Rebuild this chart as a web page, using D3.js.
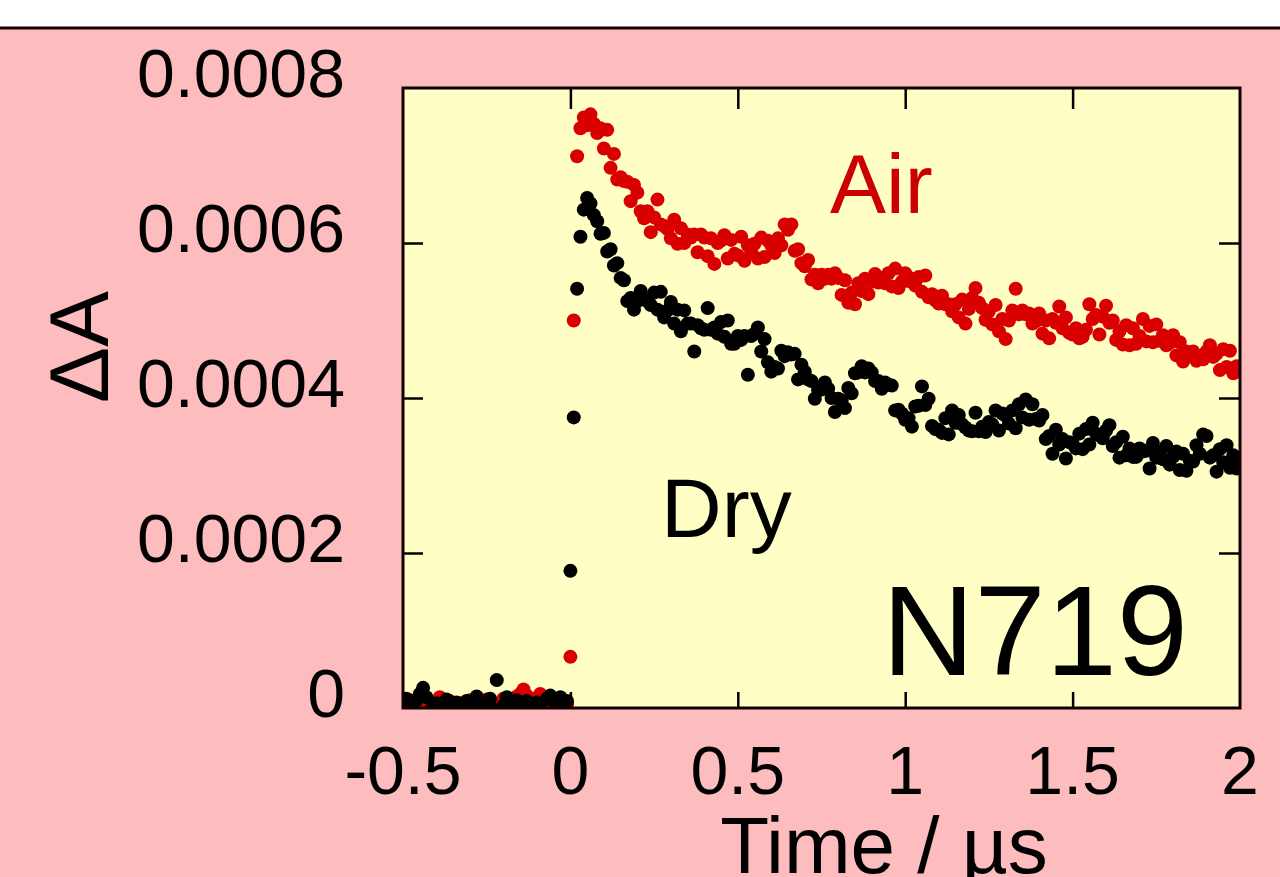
<!DOCTYPE html>
<html>
<head>
<meta charset="utf-8">
<script src="https://cdn.jsdelivr.net/npm/d3@7"></script>
<style>
  html, body { margin: 0; padding: 0; background: #fff; }
  svg { display: block; }
  text { font-family: "Liberation Sans", Arial, sans-serif; }
</style>
</head>
<body>
<svg id="chart" width="1280" height="877"></svg>
<script>
// Transient absorption of N719 films, ΔA vs time after the laser pulse.
// Samples every 0.01 µs from -0.5 µs to 2.0 µs; values are in units of 1e-6 ΔA.
const T_START = -0.5;
const T_STEP = 0.01;
const UNIT = 1e-6;

const dryValues = [
  // -0.50 .. -0.01 µs (pre-trigger baseline)
  8, 12, 4, -6, 10, 18, 26, 14, -4, 2,
  6, -8, 3, 11, -5, 0, 7, -10, 4, 9,
  -3, 6, 15, 2, -7, 5, 12, -2, 36, -9,
  3, 14, 6, -5, 10, 1, -6, 9, 4, -3,
  7, 2, -8, 12, 16, 10, 6, 14, 3, 9,
  // 0.00 .. 2.00 µs
  177, 375, 541, 608, 643, 658, 651, 636, 628, 612,
  613, 589, 592, 571, 574, 555, 552, 525, 529, 514,
  525, 538, 527, 525, 520, 536, 514, 537, 504, 513,
  524, 496, 514, 486, 513, 496, 496, 460, 494, 490,
  488, 516, 488, 491, 483, 498, 479, 500, 470, 470,
  480, 475, 480, 430, 480, 483, 491, 460, 476, 446,
  434, 440, 438, 461, 454, 459, 456, 457, 424, 443,
  434, 424, 422, 399, 410, 411, 420, 412, 400, 382,
  399, 397, 387, 413, 406, 432, 433, 441, 433, 438,
  433, 422, 422, 412, 420, 417, 416, 384, 385, 380,
  372, 374, 363, 389, 390, 415, 391, 399, 364, 360,
  359, 355, 374, 353, 384, 368, 378, 366, 362, 358,
  357, 381, 357, 363, 356, 369, 366, 384, 358, 380,
  377, 367, 384, 361, 392, 375, 398, 372, 392, 373,
  371, 378, 347, 351, 328, 359, 340, 347, 322, 343,
  341, 335, 354, 334, 360, 340, 368, 354, 352, 348,
  358, 365, 338, 343, 323, 350, 326, 335, 324, 324,
  335, 331, 332, 309, 342, 323, 330, 321, 338, 314,
  324, 331, 307, 328, 306, 319, 318, 339, 328, 353,
  351, 323, 326, 305, 334, 317, 339, 310, 326, 309,
  322
];

const airValues = [
  // -0.50 .. -0.01 µs (pre-trigger baseline)
  -5, 4, 10, -8, 2, 6, -3, 12, 5, -6,
  8, 14, 3, -4, 9, 1, -9, 6, 2, -2,
  10, -6, 4, 7, -3, 11, 0, 5, -8, 3,
  12, 6, -2, 9, 15, 18, 24, 16, 8, 12,
  4, 18, -4, 6, 9, 2, -6, 7, 3, 5,
  // 0.00 .. 2.00 µs
  66, 500, 712, 748, 762, 752, 766, 754, 742, 748,
  722, 746, 697, 715, 682, 685, 680, 679, 654, 675,
  665, 641, 632, 641, 614, 633, 656, 624, 622, 618,
  606, 630, 599, 619, 600, 611, 607, 611, 588, 611,
  607, 583, 606, 573, 600, 603, 610, 580, 604, 586,
  584, 608, 577, 597, 588, 599, 580, 607, 582, 603,
  597, 587, 606, 597, 624, 617, 624, 590, 592, 574,
  570, 578, 553, 559, 548, 559, 554, 559, 554, 561,
  555, 533, 552, 523, 536, 521, 548, 538, 554, 534,
  550, 560, 549, 555, 548, 561, 544, 567, 542, 550,
  561, 551, 554, 545, 556, 537, 558, 530, 534, 526,
  522, 532, 521, 521, 512, 521, 504, 527, 496, 515,
  529, 542, 523, 516, 501, 512, 495, 520, 486, 502,
  476, 500, 513, 541, 508, 513, 508, 509, 496, 499,
  509, 483, 500, 477, 502, 497, 518, 490, 504, 484,
  482, 490, 477, 479, 488, 521, 502, 507, 482, 505,
  519, 497, 500, 475, 486, 469, 494, 468, 490, 470,
  480, 502, 473, 493, 472, 495, 474, 481, 468, 471,
  481, 455, 472, 447, 460, 457, 460, 448, 452, 450,
  460, 468, 453, 457, 436, 463, 440, 461, 432, 441,
  438
];

const xTicks = [-0.5, 0, 0.5, 1, 1.5, 2];
const xTickLabels = ["-0.5", "0", "0.5", "1", "1.5", "2"];
const yTicks = [0, 0.0002, 0.0004, 0.0006, 0.0008];
const yTickLabels = ["0", "0.0002", "0.0004", "0.0006", "0.0008"];

const seriesNames = ["Air", "Dry"];
const sampleName = "N719";
const xTitle = "Time / µs";
const yTitle = "ΔA";

// ---- layout ----
const W = 1280, H = 877;
const plot = { left: 403, right: 1240, top: 88, bottom: 708 };
const COLORS = { page: "#FDBCBD", band: "#FFFFFF", panel: "#FFFFC5", air: "#D80000", dry: "#000000" };
const FONT_TICK = 68;

const svg = d3.select("#chart");

svg.append("rect").attr("width", W).attr("height", H).attr("fill", COLORS.page);
svg.append("rect").attr("width", W).attr("height", 27).attr("fill", COLORS.band);
svg.append("line").attr("x1", 0).attr("x2", W).attr("y1", 28).attr("y2", 28)
  .attr("stroke", "#1a0000").attr("stroke-width", 3);

const x = d3.scaleLinear().domain([-0.5, 2]).range([plot.left, plot.right]);
const y = d3.scaleLinear().domain([0, 0.0008]).range([plot.bottom, plot.top]);

svg.append("rect")
  .attr("x", plot.left).attr("y", plot.top)
  .attr("width", plot.right - plot.left).attr("height", plot.bottom - plot.top)
  .attr("fill", COLORS.panel);

svg.append("clipPath").attr("id", "plot-clip")
  .append("rect")
  .attr("x", plot.left).attr("y", plot.top)
  .attr("width", plot.right - plot.left).attr("height", plot.bottom - plot.top);

const toPoints = vals => vals.map((v, i) => ({ t: T_START + i * T_STEP, v: v * UNIT }));
const airPts = toPoints(airValues);
const dryPts = toPoints(dryValues);

const marks = svg.append("g").attr("clip-path", "url(#plot-clip)");
[[airPts, COLORS.air], [dryPts, COLORS.dry]].forEach(([pts, col]) => {
  marks.append("g").selectAll("circle").data(pts).join("circle")
    .attr("cx", d => x(d.t))
    .attr("cy", d => y(d.v))
    .attr("r", 7)
    .attr("fill", col);
});

// ---- axes: ticks point inward on all four sides ----
const innerX = [0, 0.5, 1, 1.5];
const innerY = [0.0002, 0.0004, 0.0006];

function styleAxis(g) {
  g.select(".domain").remove();
  g.selectAll(".tick line").attr("stroke", "#000").attr("stroke-width", 2.5);
}

svg.append("g").attr("transform", `translate(0,${plot.bottom})`)
  .call(d3.axisBottom(x).tickValues(innerX).tickSizeInner(-16).tickSizeOuter(0).tickFormat(""))
  .call(styleAxis);
svg.append("g").attr("transform", `translate(0,${plot.top})`)
  .call(d3.axisTop(x).tickValues(innerX).tickSizeInner(-21).tickSizeOuter(0).tickFormat(""))
  .call(styleAxis);
svg.append("g").attr("transform", `translate(${plot.left},0)`)
  .call(d3.axisLeft(y).tickValues(innerY).tickSizeInner(-20).tickSizeOuter(0).tickFormat(""))
  .call(styleAxis);
svg.append("g").attr("transform", `translate(${plot.right},0)`)
  .call(d3.axisRight(y).tickValues(innerY).tickSizeInner(-21).tickSizeOuter(0).tickFormat(""))
  .call(styleAxis);

// frame
svg.append("rect")
  .attr("x", plot.left).attr("y", plot.top)
  .attr("width", plot.right - plot.left).attr("height", plot.bottom - plot.top)
  .attr("fill", "none").attr("stroke", "#120000").attr("stroke-width", 3);

// tick labels
svg.append("g").selectAll("text").data(xTicks).join("text")
  .attr("x", d => x(d))
  .attr("y", 794)
  .attr("text-anchor", "middle")
  .attr("font-size", FONT_TICK)
  .attr("fill", "#000")
  .text((d, i) => xTickLabels[i]);

svg.append("g").selectAll("text").data(yTicks).join("text")
  .attr("x", 345)
  .attr("y", d => y(d) + 9)
  .attr("text-anchor", "end")
  .attr("font-size", FONT_TICK)
  .attr("fill", "#000")
  .text((d, i) => yTickLabels[i]);

// axis titles
svg.append("text")
  .attr("x", 884).attr("y", 873)
  .attr("text-anchor", "middle")
  .attr("font-size", 80)
  .attr("fill", "#000")
  .text(xTitle);

svg.append("text")
  .attr("transform", "translate(108,347) rotate(-90)")
  .attr("text-anchor", "middle")
  .attr("font-size", 84)
  .attr("fill", "#000")
  .text(yTitle);

// in-plot annotations
svg.append("text")
  .attr("x", 830).attr("y", 213)
  .attr("font-size", 84)
  .attr("fill", "#CC0000")
  .text(seriesNames[0]);

svg.append("text")
  .attr("x", 661).attr("y", 537)
  .attr("font-size", 84)
  .attr("fill", "#000")
  .text(seriesNames[1]);

svg.append("text")
  .attr("x", 882).attr("y", 675)
  .attr("font-size", 128)
  .attr("fill", "#000")
  .text(sampleName);
</script>
</body>
</html>
